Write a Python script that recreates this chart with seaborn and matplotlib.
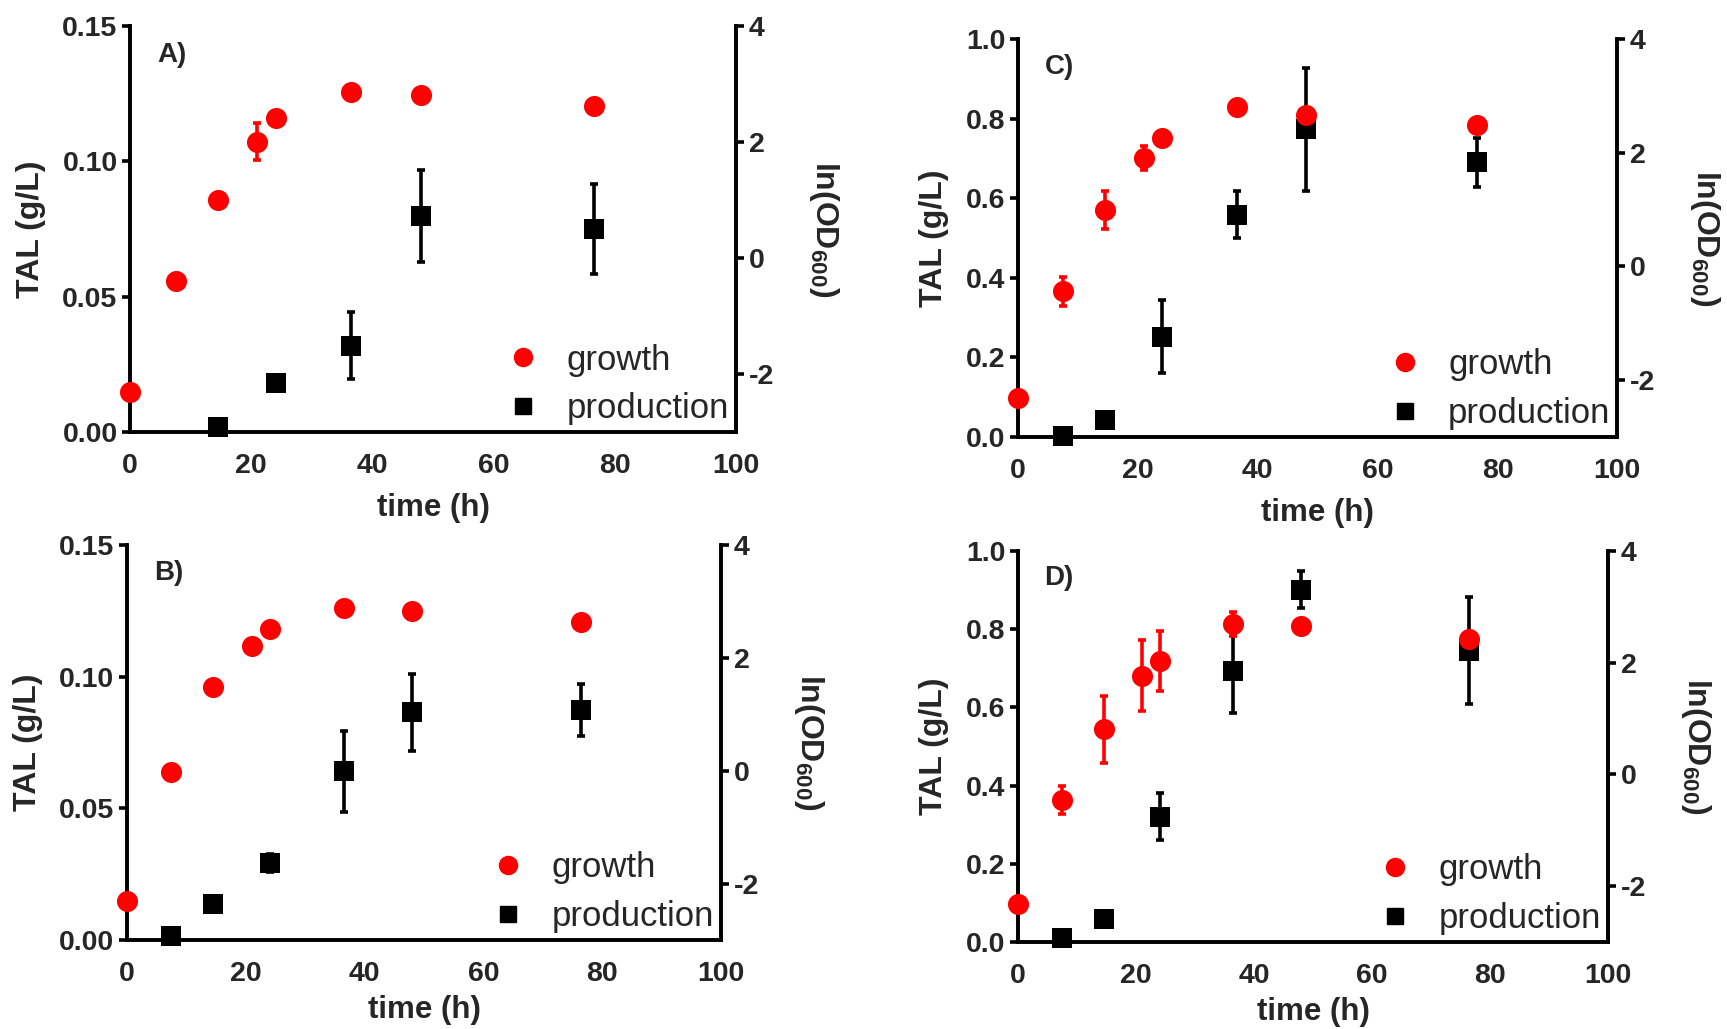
import matplotlib
matplotlib.use("Agg")
import matplotlib.pyplot as plt
import seaborn as sns
import pandas as pd
from matplotlib.lines import Line2D

sns.set_theme(style="white")
plt.rcParams['font.family'] = ['Liberation Sans', 'DejaVu Sans']
plt.rcParams['mathtext.fontset'] = 'custom'
plt.rcParams['mathtext.bf'] = 'Liberation Sans:bold'
plt.rcParams['mathtext.rm'] = 'Liberation Sans:bold'

NARROW = ['Liberation Sans Narrow', 'Liberation Sans', 'DejaVu Sans']
WIDE = ['Liberation Sans', 'DejaVu Sans']

# ---------------- data ----------------
t_growth = [0, 7.5, 14.5, 21, 24, 36.5, 48, 76.5]

gA = [-2.31, -0.40, 1.00, 2.01, 2.42, 2.86, 2.82, 2.62]
gA_err = [0, 0, 0, 0.32, 0, 0, 0, 0]
tA_p = [14.5, 24, 36.5, 48, 76.5]
pA = [0.002, 0.018, 0.032, 0.080, 0.075]
pA_err = [0, 0, 0.0125, 0.017, 0.0167]

gB = [-2.31, -0.02, 1.49, 2.20, 2.51, 2.89, 2.82, 2.64]
gB_err = [0, 0, 0, 0, 0, 0, 0, 0]
tB_p = [7.5, 14.5, 24, 36.5, 48, 76.5]
pB = [0.0015, 0.0137, 0.0292, 0.0640, 0.0865, 0.0873]
pB_err = [0, 0, 0.0035, 0.0155, 0.0146, 0.0098]

gC = [-2.32, -0.44, 0.99, 1.91, 2.26, 2.81, 2.67, 2.48]
gC_err = [0, 0.25, 0.33, 0.21, 0, 0, 0, 0]
tC_p = [7.5, 14.5, 24, 36.5, 48, 76.5]
pC = [0.002, 0.042, 0.252, 0.558, 0.773, 0.690]
pC_err = [0, 0, 0.092, 0.059, 0.154, 0.062]

gD = [-2.32, -0.45, 0.81, 1.77, 2.03, 2.69, 2.65, 2.43]
gD_err = [0, 0.25, 0.60, 0.64, 0.54, 0.22, 0, 0]
tD_p = [7.5, 14.5, 24, 36.5, 48, 76.5]
pD = [0.010, 0.059, 0.321, 0.693, 0.901, 0.745]
pD_err = [0, 0, 0.06, 0.107, 0.047, 0.137]

x_ticks = [0, 20, 40, 60, 80, 100]
right_ticks = [4, 2, 0, -2]
left_ticks_small = [0.00, 0.05, 0.10, 0.15]
left_labels_small = ["0.00", "0.05", "0.10", "0.15"]
left_ticks_big = [0.0, 0.2, 0.4, 0.6, 0.8, 1.0]
left_labels_big = ["0.0", "0.2", "0.4", "0.6", "0.8", "1.0"]

RED = "#ff0000"
BLACK = "#000000"

fig = plt.figure(figsize=(17.27, 10.29), dpi=100)

panels = [
    ("A)", [0.0753, 0.580, 0.351, 0.3946], gA, gA_err, tA_p, pA, pA_err, left_ticks_small, left_labels_small, 0.15, 10),
    ("B)", [0.0735, 0.0865, 0.344, 0.384], gB, gB_err, tB_p, pB, pB_err, left_ticks_small, left_labels_small, 0.15, 6),
    ("C)", [0.5895, 0.5753, 0.347, 0.3868], gC, gC_err, tC_p, pC, pC_err, left_ticks_big, left_labels_big, 1.0, 10),
    ("D)", [0.5895, 0.0845, 0.3416, 0.380], gD, gD_err, tD_p, pD, pD_err, left_ticks_big, left_labels_big, 1.0, 6),
]

LW = 2.6
TICKFS = 20.5
for letter, rect, g, g_err, tp, p, p_err, lt, ll, ymax, xpad in panels:
    ax = fig.add_axes(rect)
    ax2 = ax.twinx()

    # production (left axis)
    dfp = pd.DataFrame({"t": tp, "v": p})
    ax.errorbar(tp, p, yerr=p_err, fmt="none", ecolor=BLACK, elinewidth=LW,
                capsize=3, capthick=LW, clip_on=False, zorder=2)
    sns.scatterplot(data=dfp, x="t", y="v", ax=ax, marker="s", s=190, color=BLACK,
                    edgecolor=BLACK, linewidth=0, clip_on=False, zorder=3, legend=False)

    # growth (right axis)
    dfg = pd.DataFrame({"t": t_growth, "v": g})
    ax2.errorbar(t_growth, g, yerr=g_err, fmt="none", ecolor=RED, elinewidth=LW,
                 capsize=3, capthick=LW, clip_on=False, zorder=2)
    sns.scatterplot(data=dfg, x="t", y="v", ax=ax2, marker="o", s=230, color=RED,
                    edgecolor=RED, linewidth=0, clip_on=False, zorder=3, legend=False)

    ax.set_xlim(0, 100)
    ax.set_ylim(0, ymax)
    ax2.set_ylim(-3, 4)

    ax.set_xticks(x_ticks)
    ax.set_xticklabels([str(v) for v in x_ticks], fontfamily=NARROW, fontweight="bold", fontsize=TICKFS)
    ax.set_yticks(lt)
    ax.set_yticklabels(ll, fontfamily=NARROW, fontweight="bold", fontsize=TICKFS)
    ax2.set_yticks(right_ticks)
    ax2.set_yticklabels([str(v) for v in right_ticks], fontfamily=NARROW, fontweight="bold", fontsize=TICKFS)

    for a in (ax, ax2):
        a.spines["top"].set_visible(False)
        for s in ("left", "right", "bottom"):
            a.spines[s].set_linewidth(2.6)
            a.spines[s].set_color(BLACK)
        a.tick_params(axis="both", direction="out", length=6, width=2.6, color=BLACK, pad=3)
        a.grid(False)
    ax.tick_params(axis="x", pad=9)

    ax.set_xlabel("time (h)", fontfamily=NARROW, fontweight="bold", fontsize=22.5, labelpad=xpad)
    ax.set_ylabel("TAL (g/L)", fontfamily=WIDE, fontweight="bold", fontsize=23, labelpad=12)
    ax2.set_ylabel(r"ln(OD$_{\mathbf{600}}$)", fontfamily=WIDE, fontweight="bold", fontsize=23,
                   rotation=270, labelpad=48)

    ax.text(0.045, 0.93, letter, transform=ax.transAxes, fontfamily=NARROW,
            fontweight="bold", fontsize=20, va="center", ha="left")

    handles = [
        Line2D([], [], linestyle="none", marker="o", markersize=13, color=RED),
        Line2D([], [], linestyle="none", marker="s", markersize=12, color=BLACK),
    ]
    ax2.legend(handles, ["growth", "production"], loc="lower right", frameon=False,
               prop={"family": NARROW, "size": 25}, handletextpad=0.75, labelspacing=0.45,
               borderaxespad=0.0, handlelength=1.0, borderpad=0.2)

fig.savefig("out.png", dpi=100, facecolor="white")
